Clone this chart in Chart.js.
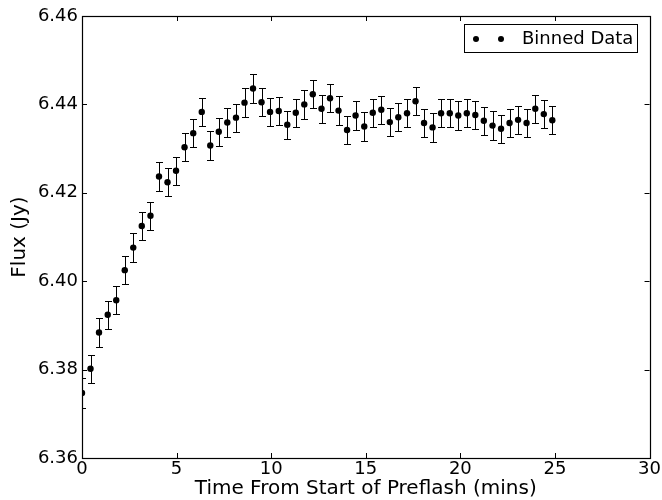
<!DOCTYPE html>
<html>
<head>
<meta charset="utf-8">
<script src="https://cdn.jsdelivr.net/npm/chart.js@4.4.0/dist/chart.umd.min.js"></script>
<style>
  html, body { margin: 0; padding: 0; background: #fff; }
  #wrap { width: 662px; height: 500px; }
</style>
</head>
<body>
<div id="wrap"><canvas id="c" width="662" height="500"></canvas></div>
<script>
// binned times (mins)
const times = [
  0.00, 0.45, 0.90, 1.36, 1.81, 2.26, 2.71, 3.16, 3.62, 4.07,
  4.52, 4.97, 5.42, 5.88, 6.33, 6.78, 7.23, 7.68, 8.14, 8.59,
  9.04, 9.49, 9.94, 10.40, 10.85, 11.30, 11.75, 12.20, 12.66, 13.11,
  13.56, 14.01, 14.46, 14.92, 15.37, 15.82, 16.27, 16.72, 17.18, 17.63,
  18.08, 18.53, 18.98, 19.44, 19.89, 20.34, 20.79, 21.24, 21.70, 22.15,
  22.60, 23.05, 23.50, 23.96, 24.41, 24.86
];
// flux (Jy)
const flux = [
  6.3747, 6.3802, 6.3884, 6.3924, 6.3957, 6.4025, 6.4076, 6.4125, 6.4148, 6.4237,
  6.4224, 6.4250, 6.4303, 6.4335, 6.4383, 6.4307, 6.4338, 6.4359, 6.4370, 6.4404,
  6.4436, 6.4405, 6.4383, 6.4385, 6.4354, 6.4381, 6.4400, 6.4423, 6.4390, 6.4414,
  6.4386, 6.4342, 6.4375, 6.4350, 6.4381, 6.4388, 6.4360, 6.4371, 6.4380, 6.4407,
  6.4358, 6.4348, 6.4380, 6.4380, 6.4375, 6.4380, 6.4376, 6.4363, 6.4352, 6.4345,
  6.4358, 6.4365, 6.4358, 6.4390, 6.4378, 6.4364
];
// error bar half-heights (Jy)
const fluxErr = [
  0.0033, 0.0032, 0.0032, 0.0032, 0.0032, 0.0032, 0.0032, 0.0032, 0.0032, 0.0032,
  0.0032, 0.0032, 0.0032, 0.0032, 0.0032, 0.0032, 0.0032, 0.0032, 0.0032, 0.0032,
  0.0032, 0.0032, 0.0032, 0.0032, 0.0032, 0.0032, 0.0032, 0.0032, 0.0032, 0.0032,
  0.0032, 0.0032, 0.0032, 0.0032, 0.0032, 0.0032, 0.0032, 0.0032, 0.0032, 0.0032,
  0.0032, 0.0032, 0.0032, 0.0032, 0.0032, 0.0032, 0.0032, 0.0032, 0.0032, 0.0032,
  0.0032, 0.0032, 0.0032, 0.0032, 0.0032, 0.0032
];
const xTicks = [0, 5, 10, 15, 20, 25, 30];
const yTicks = [6.36, 6.38, 6.40, 6.42, 6.44, 6.46];
const seriesLabel = "Binned Data";

const FONT = "'DejaVu Sans', sans-serif";

// error bars, drawn under the markers
const errorBars = {
  id: "errorBars",
  beforeDatasetsDraw(chart) {
    const { ctx, chartArea: a, scales: { x, y } } = chart;
    ctx.save();
    ctx.beginPath();
    ctx.rect(a.left, a.top, a.right - a.left, a.bottom - a.top);
    ctx.clip();
    ctx.strokeStyle = "#000";
    ctx.lineWidth = 1;
    times.forEach((t, i) => {
      const px = Math.round(x.getPixelForValue(t)) + 0.5;
      const hi = Math.round(y.getPixelForValue(flux[i] + fluxErr[i])) + 0.5;
      const lo = Math.round(y.getPixelForValue(flux[i] - fluxErr[i])) + 0.5;
      ctx.beginPath();
      ctx.moveTo(px, hi); ctx.lineTo(px, lo);
      ctx.moveTo(px - 3.5, hi); ctx.lineTo(px + 3.5, hi);
      ctx.moveTo(px - 3.5, lo); ctx.lineTo(px + 3.5, lo);
      ctx.stroke();
    });
    ctx.restore();
  }
};

// axes box, inward ticks on all sides, legend
const frame = {
  id: "frame",
  afterDraw(chart) {
    const { ctx, chartArea: a, scales: { x, y } } = chart;
    ctx.save();
    ctx.strokeStyle = "#000";
    ctx.lineWidth = 1;
    ctx.beginPath();
    xTicks.forEach((v) => {
      const px = Math.round(x.getPixelForValue(v)) + 0.5;
      ctx.moveTo(px, a.bottom); ctx.lineTo(px, a.bottom - 5);
      ctx.moveTo(px, a.top); ctx.lineTo(px, a.top + 5);
    });
    yTicks.forEach((v) => {
      const py = Math.round(y.getPixelForValue(v)) + 0.5;
      ctx.moveTo(a.left, py); ctx.lineTo(a.left + 5, py);
      ctx.moveTo(a.right, py); ctx.lineTo(a.right - 5, py);
    });
    ctx.stroke();
    ctx.lineWidth = 1.2;
    ctx.strokeRect(Math.round(a.left) + 0.5, Math.round(a.top) + 0.5,
      Math.round(a.right - a.left), Math.round(a.bottom - a.top));

    // legend
    ctx.lineWidth = 1;
    ctx.fillStyle = "#fff";
    ctx.fillRect(464.5, 24.5, 173, 28);
    ctx.strokeRect(464.5, 24.5, 173, 28);
    ctx.fillStyle = "#000";
    [476, 501].forEach((cx) => {
      ctx.beginPath();
      ctx.arc(cx, 39, 3, 0, Math.PI * 2);
      ctx.fill();
    });
    ctx.font = "18px " + FONT;
    ctx.textBaseline = "middle";
    ctx.fillText(seriesLabel, 522, 39.5);
    ctx.restore();
  }
};

const config = {
  type: "scatter",
  data: {
    datasets: [
      {
        label: seriesLabel,
        data: times.map((t, i) => ({ x: t, y: flux[i] })),
        backgroundColor: "#000",
        borderColor: "#000",
        borderWidth: 0,
        pointRadius: 3.2,
        pointHoverRadius: 3.2,
        clip: 0,
      },
    ],
  },
  options: {
    responsive: false,
    animation: false,
    events: [],
    layout: { padding: { top: 16, right: 10, left: 0, bottom: 0 } },
    plugins: {
      legend: { display: false },
      tooltip: { enabled: false },
    },
    scales: {
      x: {
        type: "linear",
        min: 0,
        max: 30,
        afterFit(scale) { scale.height = 42; },
        afterBuildTicks(scale) { scale.ticks = xTicks.map((v) => ({ value: v })); },
        ticks: {
          color: "#000",
          font: { family: FONT, size: 18 },
          padding: 1,
          maxRotation: 0,
          callback: (v) => String(v),
        },
        grid: { display: false, drawTicks: false },
        border: { display: false },
        title: {
          display: true,
          text: "Time From Start of Preflash (mins)",
          color: "#000",
          font: { family: FONT, size: 20, lineHeight: 1 },
          padding: { top: 0, bottom: 1 },
        },
      },
      y: {
        type: "linear",
        min: 6.36,
        max: 6.46,
        afterFit(scale) { scale.width = 82; },
        afterBuildTicks(scale) { scale.ticks = yTicks.map((v) => ({ value: v })); },
        ticks: {
          color: "#000",
          font: { family: FONT, size: 18 },
          padding: 4,
          callback: (v) => v.toFixed(2),
        },
        grid: { display: false, drawTicks: false },
        border: { display: false },
        title: {
          display: true,
          text: "Flux (Jy)",
          color: "#000",
          font: { family: FONT, size: 20, lineHeight: 1 },
          padding: { top: 10, bottom: 0 },
        },
      },
    },
  },
  plugins: [errorBars, frame],
};

const chart = new Chart(document.getElementById("c").getContext("2d"), config);
</script>
</body>
</html>
